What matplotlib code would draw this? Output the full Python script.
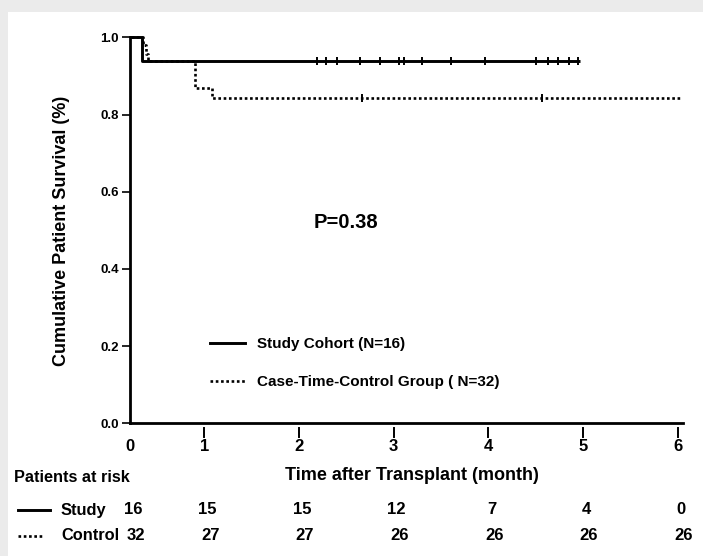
import matplotlib
matplotlib.use("Agg")
import matplotlib.pyplot as plt
from matplotlib.patches import Rectangle
from matplotlib.lines import Line2D
import matplotlib.transforms as mtransforms

plt.rcParams['font.family'] = ['Liberation Sans', 'DejaVu Sans']
plt.rcParams['font.weight'] = 'bold'

# ---------------- data ----------------
study_times = [0.0, 0.342, 4.97]
study_surv = [1.0, 0.9375, 0.9375]
study_censor = [2.19, 2.28, 2.40, 2.64, 2.85, 3.06, 3.11, 3.30, 3.61, 3.96,
                4.50, 4.63, 4.73, 4.85, 4.95]

control_times = [0.0, 0.356, 0.384, 0.409, 0.902, 1.078, 6.04]
control_surv = [1.0, 0.979, 0.958, 0.9375, 0.870, 0.8435, 0.8435]
control_censor = [2.66, 4.57]

x_ticks = [1, 2, 3, 4, 5, 6]
x_tick_labels = ['0', '1', '2', '3', '4', '5', '6']
y_ticks = [0.0, 0.2, 0.4, 0.6, 0.8, 1.0]

risk_study = [16, 15, 15, 12, 7, 4, 0]
risk_control = [32, 27, 27, 26, 26, 26, 26]

p_text = 'P=0.38'
label_study = 'Study Cohort (N=16)'
label_control = 'Case-Time-Control Group ( N=32)'

# ---------------- figure ----------------
W, H = 703, 556
fig = plt.figure(figsize=(W / 100, H / 100), dpi=100, facecolor='#ebebeb')
fig.patches.append(Rectangle((8 / W, 0), 1, 1 - 12 / H, transform=fig.transFigure,
                             facecolor='white', edgecolor='none', zorder=-10))

DOT = (0, (1.0, 1.0))
X_LEFT = 0.215
X_RIGHT = 6.055
ax = fig.add_axes([130 / W, 1 - 423.3 / H, (683 - 130) / W,
                   (423.3 - 32.7) / H])
ax.set_zorder(2)
ax.set_facecolor('none')
ax.set_xlim(X_LEFT, X_RIGHT)
ax.set_ylim(0, 1.012)

for s in ['top', 'right']:
    ax.spines[s].set_visible(False)
for s in ['left', 'bottom']:
    ax.spines[s].set_linewidth(2.0)
ax.spines['left'].set_bounds(0, 1.0)

# curves
ax.step(study_times, study_surv, where='post', color='black', lw=2.1,
        solid_capstyle='butt', zorder=3)
ax.step(control_times, control_surv, where='post', color='black', lw=1.9,
        linestyle=DOT, zorder=3)

def surv_at(times, surv, t):
    val = surv[0]
    for ti, si in zip(times, surv):
        if t >= ti:
            val = si
    return val

ax.plot(study_censor, [surv_at(study_times, study_surv, t) for t in study_censor],
        linestyle='none', marker='|', markersize=6, markeredgewidth=1.4,
        color='black', zorder=4)
ax.plot(control_censor, [surv_at(control_times, control_surv, t) for t in control_censor],
        linestyle='none', marker='|', markersize=6, markeredgewidth=1.4,
        color='black', zorder=4)

# y ticks
ax.set_yticks(y_ticks)
ax.set_yticklabels([f'{v:.1f}' for v in y_ticks])
ax.tick_params(axis='y', direction='out', length=6, width=1.2, pad=2,
               labelsize=9.5)

# x ticks: labels with detached tick marks
ax.set_xticks([X_LEFT] + x_ticks)
ax.set_xticklabels(x_tick_labels)
ax.tick_params(axis='x', length=0, pad=11.5, labelsize=12)
for lab in ax.get_xticklabels() + ax.get_yticklabels():
    lab.set_fontweight('bold')

trans = mtransforms.blended_transform_factory(ax.transData, ax.transAxes)
px = 1.0 / (423.3 - 32.7)
for t in x_ticks:
    ax.plot([t, t], [-5 * px, -14 * px], color='black', lw=1.4,
            transform=trans, clip_on=False)

# P value
ax.text((314 - 130) / 553, (423.3 - 223) / 390.6, p_text, transform=ax.transAxes,
        ha='left', va='center', fontsize=14.5, fontweight='bold')

# legend
handles = [Line2D([], [], color='black', lw=2.1),
           Line2D([], [], color='black', lw=1.9, linestyle=DOT)]
ax.legend(handles, [label_study, label_control], loc='upper left',
          bbox_to_anchor=(210 / W, 1 - 337 / H), bbox_transform=fig.transFigure,
          frameon=False, handlelength=2.3, handletextpad=0.8,
          labelspacing=1.6, borderpad=0, borderaxespad=0,
          prop={'weight': 'bold', 'size': 11})

# axis labels
fig.text(62 / W, 1 - 231 / H, 'Cumulative Patient Survival (%)', rotation=90,
         ha='center', va='center', fontsize=13, fontweight='bold')
fig.text(412 / W, 1 - 476 / H, 'Time after Transplant (month)', ha='center',
         va='center', fontsize=13, fontweight='bold')
fig.text(14 / W, 1 - 477 / H, 'Patients at risk', ha='left', va='center',
         fontsize=11.7, fontweight='bold')

# risk table
row_y = [1 - 510 / H, 1 - 536 / H]
fig.add_artist(Line2D([18 / W, 50 / W], [row_y[0], row_y[0]], color='black',
                      lw=2.1, transform=fig.transFigure))
fig.add_artist(Line2D([18 / W, 44 / W], [row_y[1], row_y[1]], color='black',
                      lw=1.9, linestyle=DOT, transform=fig.transFigure))
fig.text(61 / W, row_y[0], 'Study', ha='left', va='center', fontsize=11.8,
         fontweight='bold')
fig.text(61 / W, row_y[1], 'Control', ha='left', va='center', fontsize=11.8,
         fontweight='bold')

row_trans = mtransforms.blended_transform_factory(ax.transData, fig.transFigure)
positions = [X_LEFT] + x_ticks
off_s = mtransforms.ScaledTranslation(3 / 100, 0, fig.dpi_scale_trans)
off_c = mtransforms.ScaledTranslation(6 / 100, 0, fig.dpi_scale_trans)
for xp, vs, vc in zip(positions, risk_study, risk_control):
    fig.text(xp, row_y[0], str(vs), ha='center', va='center', fontsize=12,
             fontweight='bold', transform=row_trans + off_s)
    fig.text(xp, row_y[1], str(vc), ha='center', va='center', fontsize=12,
             fontweight='bold', transform=row_trans + off_c)

fig.savefig('out.png', dpi=100, facecolor=fig.get_facecolor())
